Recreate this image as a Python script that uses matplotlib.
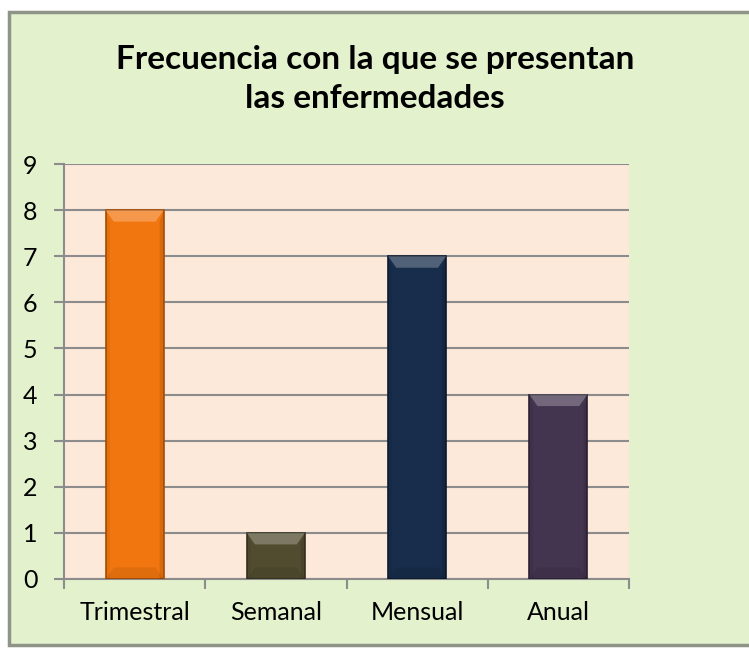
import matplotlib
matplotlib.use("Agg")
import matplotlib.pyplot as plt
from matplotlib.patches import Rectangle, Polygon

categories = ["Trimestral", "Semanal", "Mensual", "Anual"]
values = [8, 1, 7, 4]
bar_colors = ["#F2760F", "#514C30", "#172D4B", "#43354F"]
edge_colors = ["#A94E05", "#35321E", "#0E1C30", "#2B2234"]
title = "Frecuencia con la que se presentan\nlas enfermedades"
yticks = list(range(0, 10))

W, H = 749, 649
fig = plt.figure(figsize=(W / 100, H / 100), dpi=100)
fig.patch.set_facecolor("white")

# chart frame
frame = Rectangle((9 / W, 1 - 645 / H), (W + 5 - 9) / W, (645 - 12) / H,
                  transform=fig.transFigure, facecolor="#E3F1CC",
                  edgecolor="#8E9488", linewidth=2.5, zorder=-10)
fig.patches.append(frame)

ax = fig.add_axes([64 / W, 1 - 579 / H, (629 - 64) / W, (579 - 164) / H])
ax.set_zorder(5)
ax.set_facecolor("#FDE9DA")
x = range(len(categories))
width = 0.41
bars = ax.bar(x, values, width=width, color=bar_colors, edgecolor=edge_colors,
              linewidth=1.2, zorder=3)

# bevel highlight on top of each bar
for b, c in zip(bars, bar_colors):
    x0, w, h = b.get_x(), b.get_width(), b.get_height()
    d = 0.14 * w
    ds = 0.07 * w
    dy = 0.25
    ax.add_patch(Polygon([(x0, h), (x0 + w, h), (x0 + w - d, h - dy), (x0 + d, h - dy)],
                         closed=True, facecolor="white", alpha=0.25,
                         edgecolor="none", zorder=4))
    ax.add_patch(Polygon([(x0, h), (x0 + ds, h - dy), (x0 + ds, 0), (x0, 0)],
                         closed=True, facecolor="black", alpha=0.06,
                         edgecolor="none", zorder=4))
    ax.add_patch(Polygon([(x0 + w, h), (x0 + w - ds, h - dy), (x0 + w - ds, 0), (x0 + w, 0)],
                         closed=True, facecolor="black", alpha=0.10,
                         edgecolor="none", zorder=4))
    ax.add_patch(Polygon([(x0, 0), (x0 + w, 0), (x0 + w - d, min(dy, h)), (x0 + d, min(dy, h))],
                         closed=True, facecolor="black", alpha=0.08,
                         edgecolor="none", zorder=4))

ax.set_xlim(-0.5, len(categories) - 0.5)
ax.set_ylim(0, 9)
ax.set_yticks(yticks)
ax.yaxis.grid(True, color="#8C8C8C", linewidth=1.5, zorder=1)
ax.set_axisbelow(True)
for s in ["top", "right"]:
    ax.spines[s].set_visible(False)
for s in ["left", "bottom"]:
    ax.spines[s].set_color("#8C8C8C")
    ax.spines[s].set_linewidth(1.5)

ax.set_xticks([i - 0.5 for i in range(len(categories) + 1)], minor=False)
ax.set_xticklabels([])
ax.set_xticks(list(x), minor=True)
ax.set_xticklabels(categories, minor=True, fontsize=18, family=["Lato", "DejaVu Sans"])
ax.tick_params(axis="x", which="major", length=7, width=1.5, color="#8C8C8C", direction="out")
ax.tick_params(axis="x", which="minor", length=0, pad=16)
ax.tick_params(axis="y", length=7, width=1.5, color="#8C8C8C", labelsize=18, pad=12)
for lab in ax.get_yticklabels():
    lab.set_family(["Lato", "DejaVu Sans"])

fig.text(375 / W, 1 - 79 / H, title, ha="center", va="center", fontsize=24,
         fontweight="bold", family=["Lato", "DejaVu Sans"], linespacing=1.45)

fig.savefig("out.png", dpi=100, facecolor=fig.get_facecolor())
